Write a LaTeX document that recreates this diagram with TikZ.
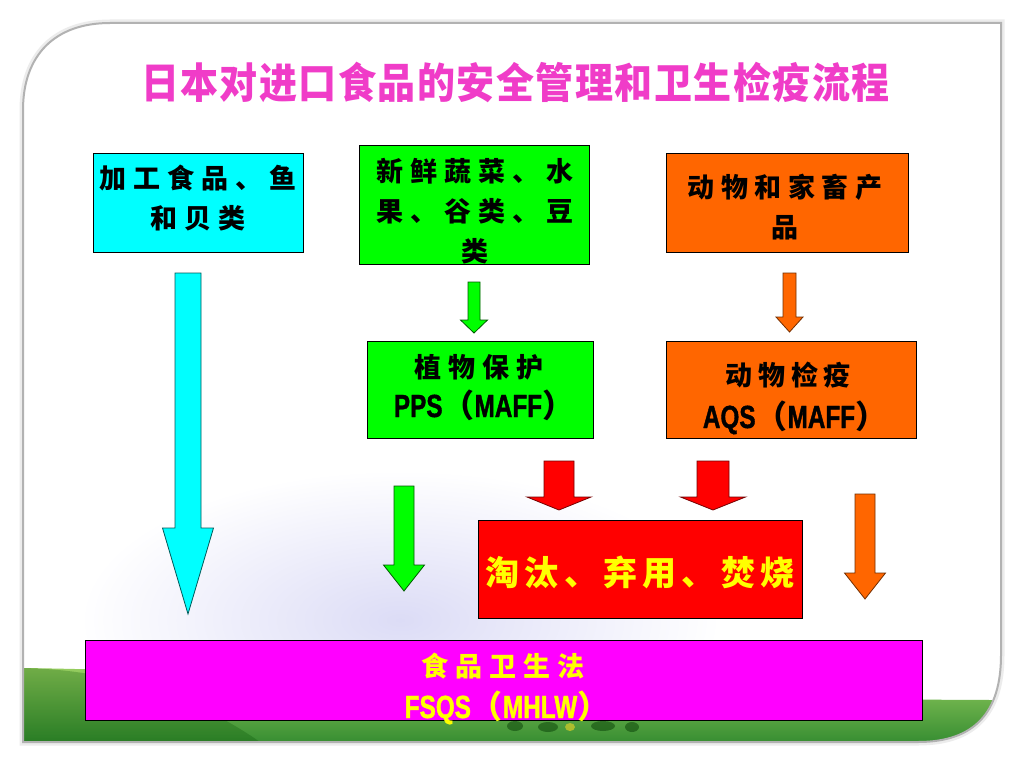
\documentclass[tikz,border=0pt]{standalone}
\usepackage{fontspec}
\usepackage{graphicx}
\setmainfont{Liberation Sans}
\newfontfamily\cjk{Noto Sans CJK SC}
\newfontfamily\nb[FakeStretch=0.76, FakeBold=1.2]{Liberation Sans Bold}
\definecolor{ttl}{RGB}{240,60,200}
\definecolor{cy}{RGB}{0,255,255}
\definecolor{gr}{RGB}{0,255,0}
\definecolor{og}{RGB}{255,102,0}
\definecolor{rd}{RGB}{255,0,0}
\definecolor{mg}{RGB}{255,0,255}
\definecolor{yl}{RGB}{255,255,0}
\definecolor{lav}{RGB}{220,220,246}
\definecolor{grassT}{RGB}{150,205,95}
\definecolor{grassB}{RGB}{45,135,45}
\makeatletter
\newcommand\spc[2]{\def\spc@w{#1}\spc@loop#2\relax}
\def\spc@loop#1{\ifx#1\relax\else\makebox[\spc@w][c]{#1}\expandafter\spc@loop\fi}
\makeatother
\newcommand\barrow[8]{%
  \draw[#8] ({#2-#6},#3) coordinate (#1) -- ({#2+#6},#3) -- ({#2+#6},#4) -- ({#2+#7},#4) -- (#2,#5) -- ({#2-#7},#4) -- ({#2-#6},#4) -- cycle;}
\tikzset{
  box/.style={draw=black, line width=0.9pt, inner sep=0pt},
  cjt/.style={font=\cjk\bfseries\fontsize{27}{40}\selectfont, align=center, inner sep=0pt},
  lat/.style={font=\nb\fontsize{32}{36}\selectfont, inner sep=0pt, anchor=base},
  cyarrow/.style={fill=cy, draw=cy!35!black, line width=0.8pt},
  grarrow/.style={fill=gr, draw=gr!35!black, line width=0.8pt},
  ogarrow/.style={fill=og, draw=og!45!black, line width=0.8pt},
  rdarrow/.style={fill=rd, draw=rd!45!black, line width=0.8pt},
}
\begin{document}
\begin{tikzpicture}[x=1pt,y=-1pt]
\useasboundingbox (0,0) rectangle (1024,768);
\fill[white] (0,0) rectangle (1024,768);
% slide frame
\def\framepath{(23,110) .. controls (23,55) and (55,23) .. (110,23) -- (1001,23) -- (1001,655) .. controls (1001,712) and (975,742) .. (918,742) -- (23,742) -- cycle}
\draw[gray!15, line width=7pt] \framepath;
\fill[white] \framepath;
\begin{scope}
  \clip \framepath;
  \shade[inner color=lav, outer color=white] (400,620) ellipse (320 and 150);
  \shade[top color=grassT, bottom color=grassB] (23,668) .. controls (300,672) and (650,700) .. (1001,700) -- (1001,750) -- (23,750) -- cycle;
  \fill[green!30!black, opacity=0.25] (23,668) .. controls (120,670) and (200,700) .. (260,742) -- (23,742) -- cycle;
  \fill[green!20!black, opacity=0.45] (515,726) ellipse (8 and 5) (548,727) ellipse (10 and 5) (603,726) ellipse (12 and 5) (632,727) ellipse (7 and 5);
  \fill[yellow!70!brown, opacity=0.6] (570,727) ellipse (5 and 4);
\end{scope}
\draw[gray!60, line width=2pt] \framepath;
% title
\node[font=\cjk\bfseries\fontsize{38}{40}\selectfont, text=ttl, inner sep=0pt] (title) at (515.5,82) {\scalebox{1}[1.1]{\spc{39.5pt}{日本对进口食品的安全管理和卫生检疫流程}}};
% boxes
\node[box, fill=cy, minimum width=210pt, minimum height=99pt] (proc) at (198.5,203) {};
\node[box, fill=gr, minimum width=230pt, minimum height=119pt] (veg) at (474,204.5) {};
\node[box, fill=og, minimum width=242pt, minimum height=99pt] (anim) at (787,202.5) {};
\node[box, fill=gr, minimum width=226pt, minimum height=97pt] (pps) at (480,389.5) {};
\node[box, fill=og, minimum width=250pt, minimum height=97pt] (aqs) at (791,389.5) {};
\node[box, fill=rd, minimum width=324pt, minimum height=98pt] (waste) at (640,569) {};
\node[box, fill=mg, minimum width=837pt, minimum height=80pt] (law) at (503.5,680) {};
% texts
\node[cjt] (proct) at (198,198) {\spc{34pt}{加工食品、鱼}\\\spc{34pt}{和贝类}};
\node[cjt] (vegt) at (475,211) {\spc{34pt}{新鲜蔬菜、水}\\\spc{34pt}{果、谷类、豆}\\\spc{34pt}{类}};
\node[cjt] (animt) at (785,207.5) {\spc{33.5pt}{动物和家畜产}\\\spc{33.5pt}{品}};
\node[cjt] (ppst) at (479,367) {\spc{34pt}{植物保护}};
\node[lat] (ppsl) at (484,417) {PPS{\cjk\bfseries （}MAFF{\cjk\bfseries ）}};
\node[cjt] (aqst) at (788,375) {\spc{33pt}{动物检疫}};
\node[lat] (aqsl) at (795,428) {AQS{\cjk\bfseries （}MAFF{\cjk\bfseries ）}};
\node[cjt, text=yl, font=\cjk\bfseries\fontsize{34}{40}\selectfont] (wastet) at (640,572) {\spc{39.3pt}{淘汰、弃用、焚烧}};
\node[cjt, text=yl] (lawt) at (503,666) {\spc{34pt}{食品卫生法}};
\node[lat, text=yl] (lawl) at (507,718) {FSQS{\cjk\bfseries （}MHLW{\cjk\bfseries ）}};
% block arrows
\barrow{a1}{188}{273}{528}{614}{13}{25.5}{cyarrow}
\barrow{a2}{474}{282}{320}{333}{6}{13.5}{grarrow}
\barrow{a3}{789.5}{273}{317}{332}{6.5}{13.5}{ogarrow}
\barrow{a4}{404}{486}{565}{591}{10}{20.5}{grarrow}
\barrow{a5}{559}{461}{497}{510}{15}{32}{rdarrow}
\barrow{a6}{713}{461}{497}{510}{16}{32.5}{rdarrow}
\barrow{a7}{865}{494}{573}{599}{10}{20.5}{ogarrow}
\end{tikzpicture}
\end{document}
